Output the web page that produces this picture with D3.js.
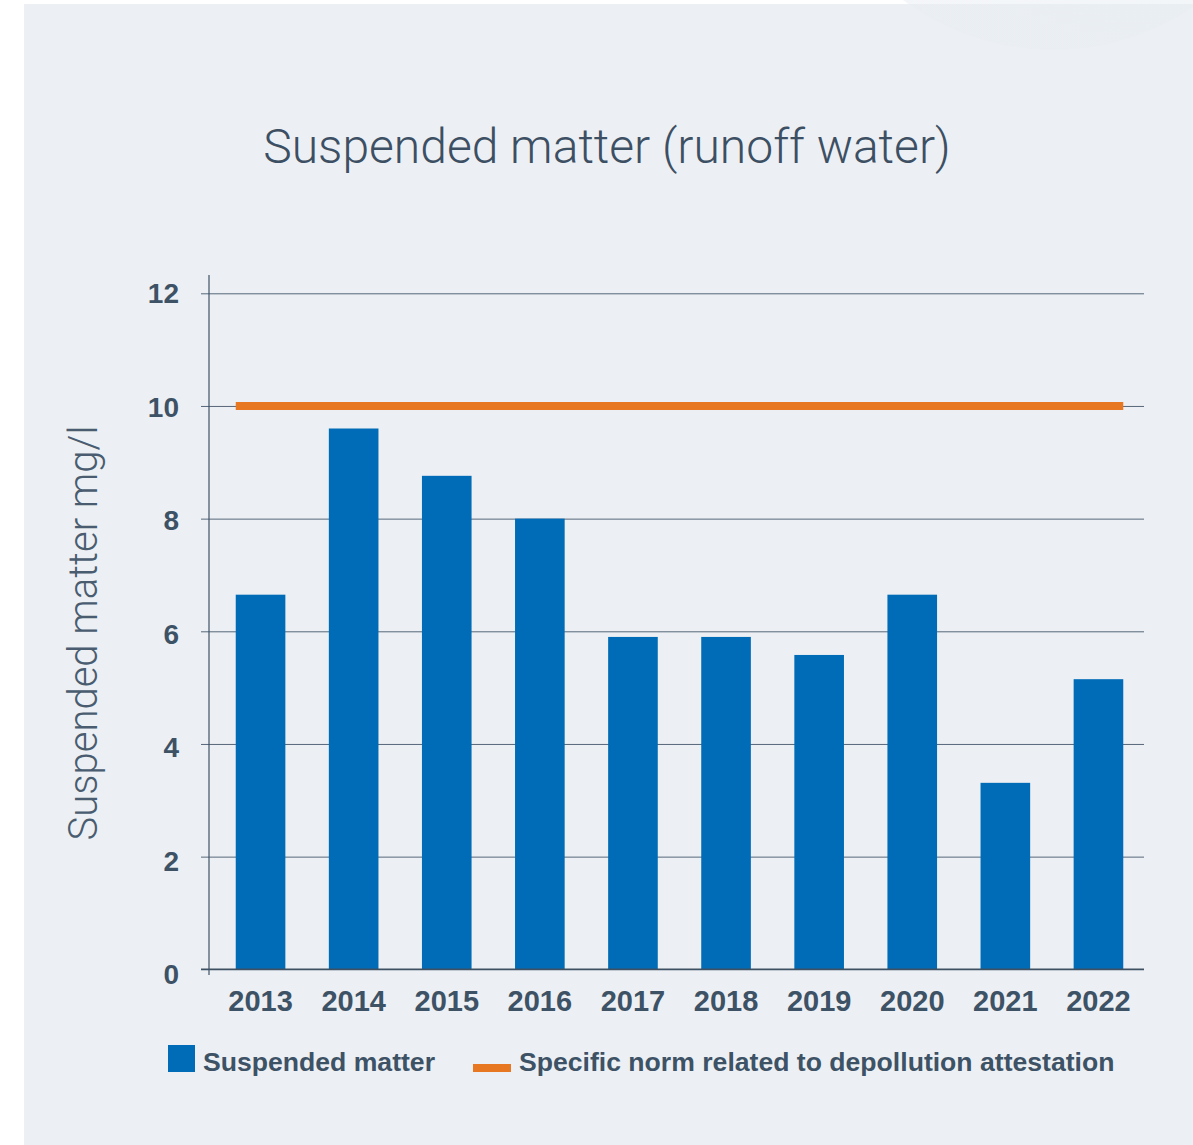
<!DOCTYPE html>
<html>
<head>
<meta charset="utf-8">
<script src="https://cdn.jsdelivr.net/npm/d3@7"></script>
<style>
  html, body { margin: 0; padding: 0; background: #ffffff; }
  svg { display: block; }
  text { font-family: "Liberation Sans", Arial, Helvetica, sans-serif; }
  .light { font-family: Roboto, "Liberation Sans", Arial, sans-serif; font-weight: 300; }
</style>
</head>
<body>
<svg id="chart" width="1193" height="1145"></svg>
<script>
// Annual suspended matter in runoff water (mg/l)
const years = ["2013", "2014", "2015", "2016", "2017", "2018", "2019", "2020", "2021", "2022"];
const suspendedMatter = [6.65, 9.6, 8.76, 8.0, 5.9, 5.9, 5.58, 6.65, 3.31, 5.15];
const normValue = 10;
const yTicks = [0, 2, 4, 6, 8, 10, 12];
const chartTitle = "Suspended matter (runoff water)";
const yAxisTitle = "Suspended matter mg/l";
const legendLabels = ["Suspended matter", "Specific norm related to depollution attestation"];

const textColor = "#3e5266";
const barColor = "#006bb6";
const normColor = "#e87722";
const gridColor = "#56677a";

const svg = d3.select("#chart");

// Panel background with a soft highlight in the top-right corner
const defs = svg.append("defs");
const glow = defs.append("radialGradient").attr("id", "glow")
  .attr("cx", "75%").attr("cy", "20%").attr("r", "80%");
glow.append("stop").attr("offset", "0%").attr("stop-color", "#dde7f2");
glow.append("stop").attr("offset", "100%").attr("stop-color", "#e8edf2");

svg.append("rect").attr("x", 24).attr("y", 4).attr("width", 1169).attr("height", 1141)
  .attr("fill", "#ecf0f4");
svg.append("circle").attr("cx", 1053).attr("cy", -200).attr("r", 250)
  .attr("fill", "url(#glow)").attr("opacity", 0.5);

// Scales
const x = d3.scaleBand().domain(years).range([214, 1145])
  .paddingInner(0.467).paddingOuter(0.2335);
const y = d3.scaleLinear().domain([0, 12]).range([969.3, 293.3]);

const axisLeftX = 209;
const gridRight = 1144;

// Gridlines with short ticks to the left of the axis
const yAxis = d3.axisLeft(y).tickValues(yTicks)
  .tickSizeInner(-(gridRight - axisLeftX)).tickSizeOuter(0).tickFormat("");
const gy = svg.append("g").attr("transform", `translate(${axisLeftX},0)`).call(yAxis);
gy.select(".domain").remove();
gy.selectAll(".tick line").attr("x1", -8).attr("stroke", gridColor).attr("stroke-width", 1);

// Y tick labels
svg.append("g").selectAll("text").data(yTicks).join("text")
  .attr("x", 179).attr("y", d => y(d) + 10 + (12 - d) * 0.4)
  .attr("text-anchor", "end")
  .attr("font-size", 28).attr("font-weight", "bold").attr("fill", textColor)
  .text(d => d);

// Bars
svg.append("g").selectAll("rect").data(years).join("rect")
  .attr("x", d => x(d))
  .attr("y", (d, i) => y(suspendedMatter[i]))
  .attr("width", x.bandwidth())
  .attr("height", (d, i) => y(0) - y(suspendedMatter[i]))
  .attr("fill", barColor);

// Norm line spanning the bars
svg.append("line")
  .attr("x1", x(years[0])).attr("x2", x(years[years.length - 1]) + x.bandwidth())
  .attr("y1", y(normValue)).attr("y2", y(normValue))
  .attr("stroke", normColor).attr("stroke-width", 8);

// Axis lines
svg.append("line").attr("x1", axisLeftX).attr("x2", axisLeftX).attr("y1", 275).attr("y2", 975)
  .attr("stroke", "#3e5163").attr("stroke-width", 1.2);
svg.append("line").attr("x1", 201).attr("x2", gridRight).attr("y1", y(0)).attr("y2", y(0))
  .attr("stroke", "#3e5163").attr("stroke-width", 1.5);

// X labels
const xAxis = d3.axisBottom(x).tickSize(0);
const gx = svg.append("g").attr("transform", `translate(0,${y(0)})`).call(xAxis);
gx.select(".domain").remove();
gx.selectAll(".tick text")
  .attr("y", 42).attr("dy", 0)
  .attr("font-family", "'Liberation Sans', Arial, sans-serif")
  .attr("font-size", 29).attr("font-weight", "bold").attr("fill", textColor);

// Title
svg.append("text").attr("class", "light").attr("x", 607).attr("y", 163).attr("text-anchor", "middle")
  .attr("font-size", 48).attr("fill", "#3d4f63").text(chartTitle);

// Y axis title
svg.append("text").attr("class", "light").attr("transform", "translate(97,633) rotate(-90)")
  .attr("text-anchor", "middle").attr("font-size", 40).attr("fill", "#4a5c6f")
  .text(yAxisTitle);

// Legend
const legend = svg.append("g");
legend.append("rect").attr("x", 168).attr("y", 1045).attr("width", 27).attr("height", 27)
  .attr("fill", barColor);
legend.append("text").attr("x", 203).attr("y", 1071)
  .attr("font-size", 26.6).attr("font-weight", "bold").attr("fill", textColor)
  .text(legendLabels[0]);
legend.append("rect").attr("x", 473).attr("y", 1064).attr("width", 38).attr("height", 8)
  .attr("fill", normColor);
legend.append("text").attr("x", 519).attr("y", 1071)
  .attr("font-size", 26.6).attr("font-weight", "bold").attr("fill", textColor)
  .text(legendLabels[1]);
</script>
</body>
</html>
